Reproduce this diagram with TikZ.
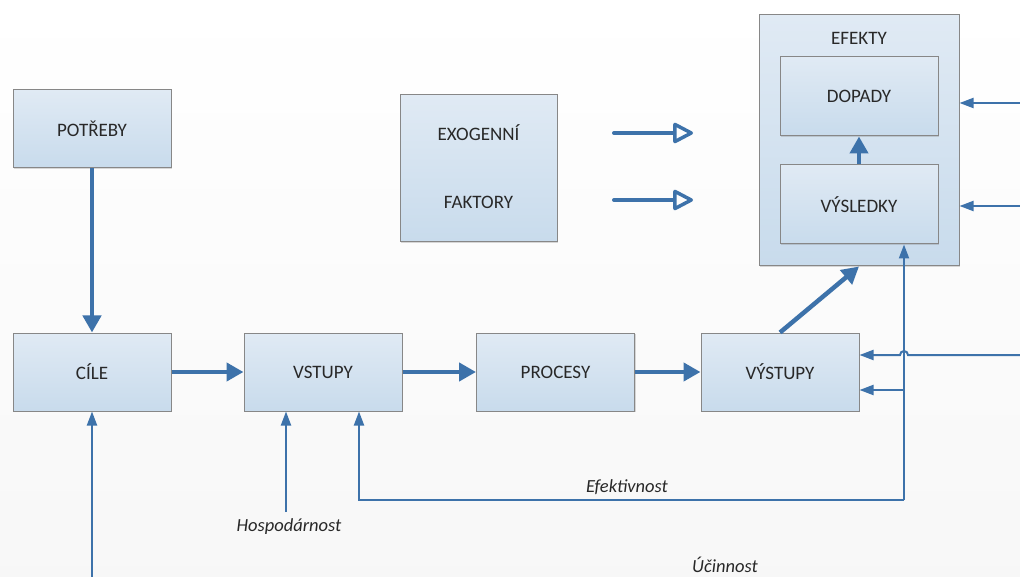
\documentclass[tikz,border=0pt]{standalone}
\usepackage{fontspec}
\setmainfont{Carlito}
\usetikzlibrary{arrows.meta,shadows}
\definecolor{arr}{RGB}{61,114,170}
\definecolor{bord}{RGB}{135,135,135}
\definecolor{btop}{RGB}{224,234,244}
\definecolor{bbot}{RGB}{200,219,236}
\definecolor{txt}{RGB}{40,40,40}
\begin{document}
\begin{tikzpicture}[x=1pt,y=-1pt,
  box/.style={draw=bord,line width=1pt,top color=btop,bottom color=bbot,
    minimum width=158pt,minimum height=78pt,inner sep=0pt,text=txt,
    font=\fontsize{19}{21}\selectfont,
    drop shadow={shadow xshift=1.2pt,shadow yshift=-1.2pt,opacity=0.3}},
  fatarrow/.style={draw=arr,line width=4.5pt,-{Triangle[length=17pt,width=18pt]}},
  slimarrow/.style={draw=arr,line width=2pt,-{Triangle[length=14pt,width=10pt]}},
  openarrow/.style={draw=arr,line width=4pt,line cap=round,
    -{Triangle[open,length=22pt,width=22pt,line width=3.5pt,round]}},
  lbl/.style={font=\fontsize{18.5}{20}\selectfont\itshape,text=txt,inner sep=0pt},
  plain/.style={font=\fontsize{19}{21}\selectfont,text=txt,inner sep=0pt}]
\fill[top color=white,bottom color=black!3] (0,0) rectangle (1020,577);
\useasboundingbox (0,0) rectangle (1020,577);

% boxes
\node[box] (potreby) at (92,129) {POTŘEBY};
\node[box] (cile) at (92,372) {CÍLE};
\node[box] (vstupy) at (323,372) {VSTUPY};
\node[box] (procesy) at (555.5,372) {PROCESY};
\node[box] (vystupy) at (780,372) {VÝSTUPY};
\node[box,minimum width=157pt,minimum height=147pt] (exo) at (478.5,168.5) {};
\node[plain] (exo1) at (478.5,133) {EXOGENNÍ};
\node[plain] (exo2) at (478.5,202) {FAKTORY};
\node[box,minimum width=200pt,minimum height=251pt] (efekty) at (859,140.5) {};
\node[plain] (eflbl) at (859,38) {EFEKTY};
\node[box,minimum height=79pt] (dopady) at (859,96.5) {DOPADY};
\node[box,minimum height=79pt] (vysledky) at (859,204.5) {VÝSLEDKY};

% thick connectors
\draw[fatarrow] (potreby) -- (cile);
\draw[fatarrow] (cile) -- (vstupy);
\draw[fatarrow] (vstupy) -- (procesy);
\draw[fatarrow] (procesy) -- (vystupy);
\draw[fatarrow] (vystupy.north) -- (efekty.south);
\draw[fatarrow] (vysledky) -- (dopady);

% exogenous arrows
\coordinate (e1s) at (614,133);
\coordinate (e1e) at (693,133);
\coordinate (e2s) at (614,200);
\coordinate (e2e) at (693,200);
\draw[openarrow] (e1s) -- (e1e);
\draw[openarrow] (e2s) -- (e2e);

% right-edge inputs
\coordinate (r1) at (1020,103);
\coordinate (r2) at (1020,206);
\coordinate (r3) at (1020,355);
\draw[slimarrow] (r1) -- (r1 -| efekty.east);
\draw[slimarrow] (r2) -- (r2 -| efekty.east);
\draw[slimarrow] (r3) -- (908,355) arc[start angle=0,end angle=-180,radius=4] -- (r3 -| vystupy.east);

% feedback lines
\coordinate (c1) at (904,500);
\coordinate (b1) at (904,390);
\coordinate (vsE) at ([xshift=36pt]vstupy.south);
\coordinate (vsH) at ([xshift=-37pt]vstupy.south);
\coordinate (hosp) at (286,512);
\coordinate (cb) at (92,577);
\draw[slimarrow] (c1) -- (c1 |- vysledky.south);
\draw[slimarrow] (c1) -- (vsE |- c1) -- (vsE);
\draw[slimarrow] (b1) -- (b1 -| vystupy.east);
\draw[slimarrow] (hosp) -- (vsH);
\draw[slimarrow] (cb) -- (cile);

% labels
\node[lbl] (efl) at (627,487) {Efektivnost};
\node[lbl] (hol) at (289,527) {Hospodárnost};
\node[lbl] (ucl) at (725,565) {Účinnost};
\end{tikzpicture}
\end{document}
